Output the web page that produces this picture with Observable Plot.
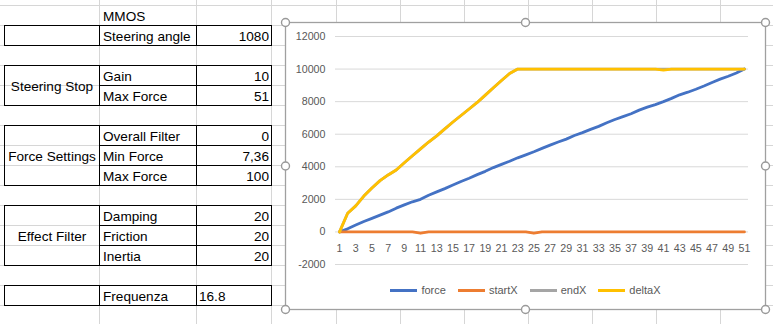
<!DOCTYPE html>
<html><head><meta charset="utf-8">
<script src="https://cdn.jsdelivr.net/npm/d3@7"></script>
<script src="https://cdn.jsdelivr.net/npm/@observablehq/plot@0.6"></script>
<style>
html,body{margin:0;padding:0;background:#fff;}
#page{position:relative;width:773px;height:324px;overflow:hidden;font-family:"Liberation Sans",Arial,sans-serif;}
#sheet{position:absolute;left:0;top:0;}
#chart{position:absolute;left:286px;top:23px;width:479px;height:286px;background:#fff;}
#plot{position:absolute;left:0;top:-1px;}
#legend{position:absolute;left:0;top:257px;width:479px;height:20px;display:flex;justify-content:center;align-items:center;font-size:11px;color:#595959;}
.item{display:flex;align-items:center;margin:0 6px;}
.sw{width:27px;height:3px;margin-right:4px;}
#frame{position:absolute;left:0;top:0;pointer-events:none;}
</style></head>
<body><div id="page"><svg id="sheet" width="773" height="324"></svg><div id="chart"><div id="plot"></div><div id="legend"></div></div><svg id="frame" width="773" height="324"></svg></div>
<script>
// ---- chart data ----
const categories = [1,2,3,4,5,6,7,8,9,10,11,12,13,14,15,16,17,18,19,20,21,22,23,24,25,26,27,28,29,30,31,32,33,34,35,36,37,38,39,40,41,42,43,44,45,46,47,48,49,50,51];
const force = [0,190,420,640,830,1030,1230,1460,1660,1850,2000,2250,2460,2660,2880,3100,3300,3520,3720,3950,4150,4340,4550,4730,4920,5130,5330,5520,5700,5920,6100,6300,6480,6700,6900,7080,7260,7480,7660,7820,8000,8200,8420,8580,8760,8960,9180,9380,9560,9760,10000];
const startX = [0,0,0,0,0,0,0,0,0,0,-80,0,0,0,0,0,0,0,0,0,0,0,0,0,-80,0,0,0,0,0,0,0,0,0,0,0,0,0,0,0,0,0,0,0,0,0,0,0,0,0,0];
const deltaX = [0,1150,1600,2200,2700,3150,3500,3800,4250,4680,5100,5520,5900,6330,6750,7150,7550,7950,8400,8850,9300,9730,10000,10000,10000,10000,10000,10000,10000,10000,10000,10000,10000,10000,10000,10000,10000,10000,10000,10000,9940,10000,10000,10000,10000,10000,10000,10000,10000,10000,10000];
const endX = [0,1150,1600,2200,2700,3150,3500,3800,4250,4680,5100,5520,5900,6330,6750,7150,7550,7950,8400,8850,9300,9730,10000,10000,10000,10000,10000,10000,10000,10000,10000,10000,10000,10000,10000,10000,10000,10000,10000,10000,10000,10000,10000,10000,10000,10000,10000,10000,10000,10000,10000];
const seriesNames = ["force","startX","endX","deltaX"];
const seriesColors = ["#4472C4","#ED7D31","#A5A5A5","#FFC000"];
const yTicks = [-2000,0,2000,4000,6000,8000,10000,12000];
const xTickLabels = [1,3,5,7,9,11,13,15,17,19,21,23,25,27,29,31,33,35,37,39,41,43,45,47,49,51];

// ---- sheet data ----
const sheetTitle = "MMOS";
const rowLabels = ["Steering angle","Gain","Max Force","Overall Filter","Min Force","Max Force","Damping","Friction","Inertia","Frequenza"];
const rowIndex = [1,3,4,6,7,8,10,11,12,14];
const rowValues = ["1080","10","51","0","7,36","100","20","20","20","16.8"];
const valueLeft = [false,false,false,false,false,false,false,false,false,true];
const groupNames = ["Steering Stop","Force Settings","Effect Filter"];
const groupRows = [[3,4],[6,8],[10,12]];
const boxes = [[1,1],[3,4],[6,8],[10,12],[14,14]];

// ---- sheet drawing ----
const sheet = d3.select("#sheet");
const rowTop = r => 5.5 + 20*r;
const colX = [4.5, 99.5, 196.5, 271.5];
const gridCols = [99.5,196.5,271.5,336.5,400.5,464.5,528.5,592.5,656.5,720.5];
for (let k=0;k<16;k++) sheet.append("line").attr("x1",0).attr("x2",773).attr("y1",rowTop(k)).attr("y2",rowTop(k)).attr("stroke","#d6d6d6");
for (const x of gridCols) sheet.append("line").attr("x1",x).attr("x2",x).attr("y1",0).attr("y2",324).attr("stroke","#d6d6d6");
const ink = "#000";
for (const [a,b] of boxes) {
  const y0 = rowTop(a), y1 = rowTop(b+1);
  sheet.append("rect").attr("x",colX[0]).attr("y",y0).attr("width",colX[3]-colX[0]).attr("height",y1-y0).attr("fill","none").attr("stroke",ink);
  sheet.append("line").attr("x1",colX[1]).attr("x2",colX[1]).attr("y1",y0).attr("y2",y1).attr("stroke",ink);
  sheet.append("line").attr("x1",colX[2]).attr("x2",colX[2]).attr("y1",y0).attr("y2",y1).attr("stroke",ink);
  for (let r=a+1;r<=b;r++) sheet.append("line").attr("x1",colX[1]).attr("x2",colX[3]).attr("y1",rowTop(r)).attr("y2",rowTop(r)).attr("stroke",ink);
}
const txt = (x,y,s,anchor) => sheet.append("text").attr("x",x).attr("y",y).attr("text-anchor",anchor||"start")
  .attr("font-family","Liberation Sans, Arial, sans-serif").attr("font-size","13.6px").attr("fill","#000").text(s);
const base = r => rowTop(r) + 10 + 5;
txt(103, base(0), sheetTitle);
rowLabels.forEach((s,i)=>{
  txt(103, base(rowIndex[i]), s);
  if (valueLeft[i]) txt(199, base(rowIndex[i]), rowValues[i]);
  else txt(269, base(rowIndex[i]), rowValues[i], "end");
});
groupNames.forEach((s,i)=>{
  const [a,b] = groupRows[i];
  const cy = (rowTop(a)+rowTop(b+1))/2;
  txt(52, cy+5, s, "middle");
});

// ---- chart ----
const rows = seriesNames.map((n,i)=>{
  const vals = [force,startX,endX,deltaX][i];
  return categories.map((c,j)=>({x:c, y:vals[j], series:n}));
});
const chart = Plot.plot({
  width: 479, height: 258,
  marginLeft: 49, marginRight: 17, marginTop: 14, marginBottom: 16,
  style: {fontFamily:"Liberation Sans, Arial, sans-serif", fontSize:"10.7px", color:"#595959", background:"transparent"},
  x: {type:"linear", domain:[0.5,51.5], axis:null},
  y: {domain:[-2000,12000], axis:null},
  marks: [
    Plot.gridY(yTicks, {stroke:"#d9d9d9", strokeOpacity:1, strokeWidth:1}),
    Plot.axisY(yTicks, {anchor:"left", tickSize:0, tickPadding:10, tickFormat:d=>String(d), label:null}),
    Plot.text(xTickLabels, {x:d=>d, y:()=>0, dy:17, fill:"#595959"}),
    ...rows.map((r,i)=>Plot.line(r, {x:"x", y:"y", stroke:seriesColors[i], strokeWidth:2.8, strokeLinejoin:"round", strokeLinecap:"round"}))
  ]
});
document.getElementById("plot").appendChild(chart);

const legend = d3.select("#legend");
seriesNames.forEach((n,i)=>{
  const it = legend.append("div").attr("class","item");
  it.append("div").attr("class","sw").style("background",seriesColors[i]);
  it.append("span").text(n);
});

// ---- chart frame & handles ----
const frame = d3.select("#frame");
const fx = [285.5, 525.5, 765.5], fy = [22.5, 166, 309.5];
frame.append("rect").attr("x",fx[0]).attr("y",fy[0]).attr("width",fx[2]-fx[0]).attr("height",fy[2]-fy[0]).attr("fill","none").attr("stroke","#a0a0a0").attr("stroke-width",1.3);
for (const x of fx) for (const y of fy) {
  if (x===fx[1] && y===fy[1]) continue;
  frame.append("circle").attr("cx",x).attr("cy",y).attr("r",4).attr("fill","#fff").attr("stroke","#999").attr("stroke-width",1.4);
}
</script></body></html>
